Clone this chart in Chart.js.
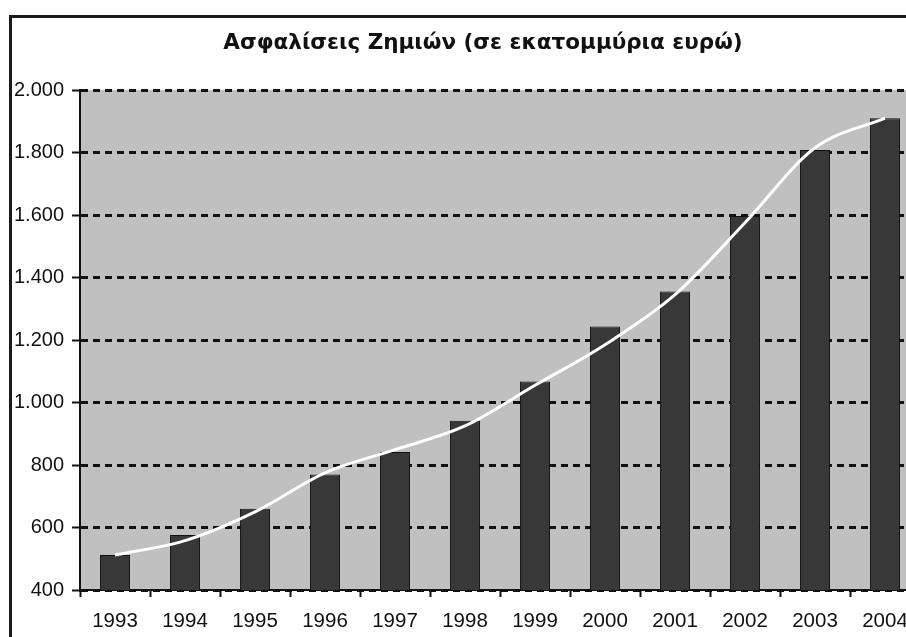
<!DOCTYPE html>
<html lang="el">
<head>
<meta charset="utf-8">
<title>Ασφαλίσεις Ζημιών</title>
<script src="https://cdn.jsdelivr.net/npm/chart.js@4"></script>
<style>
    html, body { margin: 0; padding: 0; background: #ffffff; overflow: hidden; }
    #wrap { width: 960px; height: 637px; }
</style>
</head>
<body>
<div id="wrap"><canvas id="lossChart" width="960" height="637"></canvas></div>
<script>
// Data
const chartTitle = 'Ασφαλίσεις Ζημιών (σε εκατομμύρια ευρώ)';
const years = ['1993', '1994', '1995', '1996', '1997', '1998', '1999', '2000', '2001', '2002', '2003', '2004'];
const premiums = [512, 576, 660, 770, 842, 942, 1067, 1243, 1355, 1597, 1808, 1910];
const trend = [512, 558, 650, 775, 849, 925, 1055, 1185, 1345, 1575, 1815, 1910];
const yMin = 400;
const yMax = 2000;
const yStep = 200;

// 회색 플롯 배경
const plotBackground = {
    id: 'plotBackground',
    beforeDraw(chart) {
        const { ctx, chartArea } = chart;
        ctx.save();
        ctx.fillStyle = '#c0c0c0';
        ctx.fillRect(chartArea.left, chartArea.top, chartArea.right - chartArea.left, chartArea.bottom - chartArea.top);
        ctx.restore();
    }
};

// 바깥 테두리 (왼쪽, 위) + 제목
const outerFrame = {
    id: 'outerFrame',
    afterDraw(chart) {
        const ctx = chart.ctx;
        ctx.save();
        ctx.strokeStyle = '#1a1a1a';
        ctx.lineWidth = 3;
        ctx.beginPath();
        ctx.moveTo(10.5, chart.height);
        ctx.lineTo(10.5, 16.5);
        ctx.lineTo(chart.width, 16.5);
        ctx.stroke();

        // title is not centred on the plot in the original, so it is placed by hand
        ctx.fillStyle = '#111111';
        ctx.font = 'bold 21.5px "DejaVu Sans"';
        ctx.textAlign = 'center';
        ctx.textBaseline = 'middle';
        ctx.fillText(chartTitle, 483, 43);
        ctx.restore();
    }
};

function formatThousands(value) {
    return value.toLocaleString('de-DE');
}

new Chart(document.getElementById('lossChart'), {
    type: 'bar',
    data: {
        labels: years,
        datasets: [
            {
                type: 'line',
                label: 'trend',
                data: trend,
                borderColor: '#ffffff',
                borderWidth: 3,
                cubicInterpolationMode: 'monotone',
                pointRadius: 0,
                fill: false,
                order: 0
            },
            {
                label: 'Ασφαλίσεις Ζημιών',
                data: premiums,
                backgroundColor: '#383838',
                borderColor: '#111111',
                borderWidth: 1,
                barPercentage: 0.43,
                categoryPercentage: 1,
                order: 1
            }
        ]
    },
    options: {
        responsive: false,
        animation: false,
        layout: {
            padding: { top: 90, right: 40, bottom: 0, left: 0 }
        },
        plugins: {
            legend: { display: false },
            tooltip: { enabled: false },
            title: { display: false }
        },
        scales: {
            x: {
                offset: true,
                grid: {
                    offset: true,
                    drawOnChartArea: false,
                    drawTicks: true,
                    tickLength: 7,
                    tickColor: '#111111',
                    tickWidth: 2
                },
                border: { display: true, color: '#111111', width: 2 },
                ticks: {
                    color: '#111111',
                    padding: 12,
                    font: { family: 'Liberation Sans', size: 20.5 }
                },
                afterFit(scale) {
                    scale.height = 47;
                }
            },
            y: {
                min: yMin,
                max: yMax,
                grid: {
                    color: '#111111',
                    lineWidth: 3,
                    drawTicks: true,
                    tickLength: 8,
                    tickColor: '#111111',
                    tickWidth: 2,
                    tickBorderDash: []
                },
                border: { display: true, color: '#111111', width: 2, dash: [7, 5] },
                ticks: {
                    stepSize: yStep,
                    color: '#111111',
                    padding: 8,
                    font: { family: 'Liberation Sans', size: 20 },
                    callback: function(value) {
                        return formatThousands(value);
                    }
                },
                afterFit(scale) {
                    scale.width = 80;
                }
            }
        }
    },
    plugins: [plotBackground, outerFrame]
});
</script>
</body>
</html>
